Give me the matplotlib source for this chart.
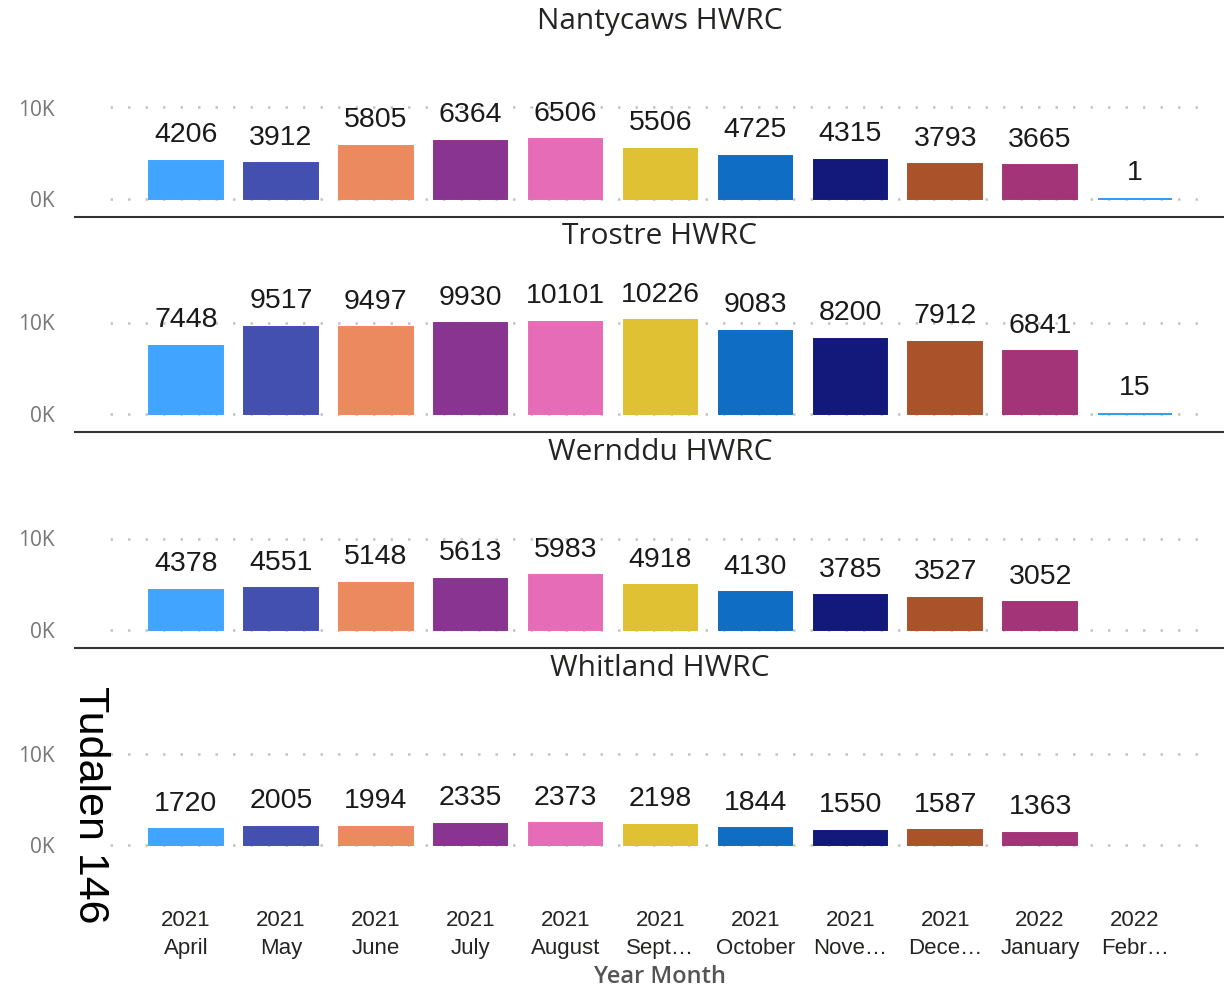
import matplotlib
matplotlib.use("Agg")
import matplotlib.pyplot as plt
from matplotlib.lines import Line2D

months = ["2021\nApril", "2021\nMay", "2021\nJune", "2021\nJuly", "2021\nAugust",
          "2021\nSept…", "2021\nOctober", "2021\nNove…", "2021\nDece…",
          "2022\nJanuary", "2022\nFebr…"]
sites = ["Nantycaws HWRC", "Trostre HWRC", "Wernddu HWRC", "Whitland HWRC"]
nantycaws = [4206, 3912, 5805, 6364, 6506, 5506, 4725, 4315, 3793, 3665, 1]
trostre = [7448, 9517, 9497, 9930, 10101, 10226, 9083, 8200, 7912, 6841, 15]
wernddu = [4378, 4551, 5148, 5613, 5983, 4918, 4130, 3785, 3527, 3052, None]
whitland = [1720, 2005, 1994, 2335, 2373, 2198, 1844, 1550, 1587, 1363, None]
series = [nantycaws, trostre, wernddu, whitland]
yticks = [0, 10000]
ytick_labels = ["0K", "10K"]

colors = ["#41A4FF", "#4350AF", "#EB895F", "#893490", "#E66CB8", "#E0C134",
          "#0F6DC3", "#12197A", "#AA522A", "#A43478", "#2E9BFF"]

W, H = 1224, 990
fig = plt.figure(figsize=(W / 100, H / 100), dpi=100)
num_font = "Liberation Sans"
ui_font = "Open Sans"

left_px, right_px = 110, 1205
c0_px, step_px = 186, 94.9
zero_px = [199, 414, 630, 845]
k10_px = 91.5
top_extra, bot_extra = 160, 12

for i, (name, vals) in enumerate(zip(sites, series)):
    y0 = zero_px[i]
    top_px = y0 - top_extra
    bot_px = y0 + bot_extra
    ax = fig.add_axes([left_px / W, 1 - bot_px / H, (right_px - left_px) / W,
                       (bot_px - top_px) / H])
    ax.set_xlim((left_px - c0_px) / step_px, (right_px - c0_px) / step_px)
    ax.set_ylim(-bot_extra / k10_px * 10000, top_extra / k10_px * 10000)
    for yt in yticks:
        ax.axhline(yt, color="#C4C4C4", lw=1.8, ls=(0, (1, 6)), zorder=0)
    xs = [j for j, v in enumerate(vals) if v is not None]
    hs = [vals[j] for j in xs]
    cs = [colors[j] for j in xs]
    ax.bar(xs, hs, width=0.775, color=cs, edgecolor=cs, linewidth=1.4, zorder=2)
    for j, h in zip(xs, hs):
        ax.annotate(str(h), (j, h), xytext=(0, 9), textcoords="offset points",
                    ha="center", va="bottom", fontsize=20.5, color="#1a1a1a",
                    family=num_font)
    ax.set_yticks(yticks)
    ax.set_yticklabels(ytick_labels, fontsize=15, color="#777777", family=ui_font)
    ax.tick_params(axis="y", length=0, pad=40)
    for s in ax.spines.values():
        s.set_visible(False)
    if i == 3:
        ax.set_xticks(range(len(months)))
        ax.set_xticklabels(months, fontsize=16, color="#252423", family=num_font,
                           linespacing=1.45)
        ax.tick_params(axis="x", length=0, pad=38)
    else:
        ax.set_xticks([])
    fig.text(660 / W, 1 - (y0 - 177) / H, name, ha="center", va="center",
             fontsize=21.5, color="#252423", family=ui_font)
    if i < 3:
        ly = 1 - (y0 + 18) / H
        fig.add_artist(Line2D([75 / W, 1], [ly, ly], color="#333333", lw=1.5))

fig.text(660 / W, 1 - 977 / H, "Year Month", ha="center", va="center",
         fontsize=17, color="#555555", family=ui_font, fontweight="semibold")
fig.text(90 / W, 1 - 805 / H, "Tudalen 146", ha="center", va="center",
         rotation=270, fontsize=31, color="black", family=num_font)

fig.savefig("out.png", dpi=100)
